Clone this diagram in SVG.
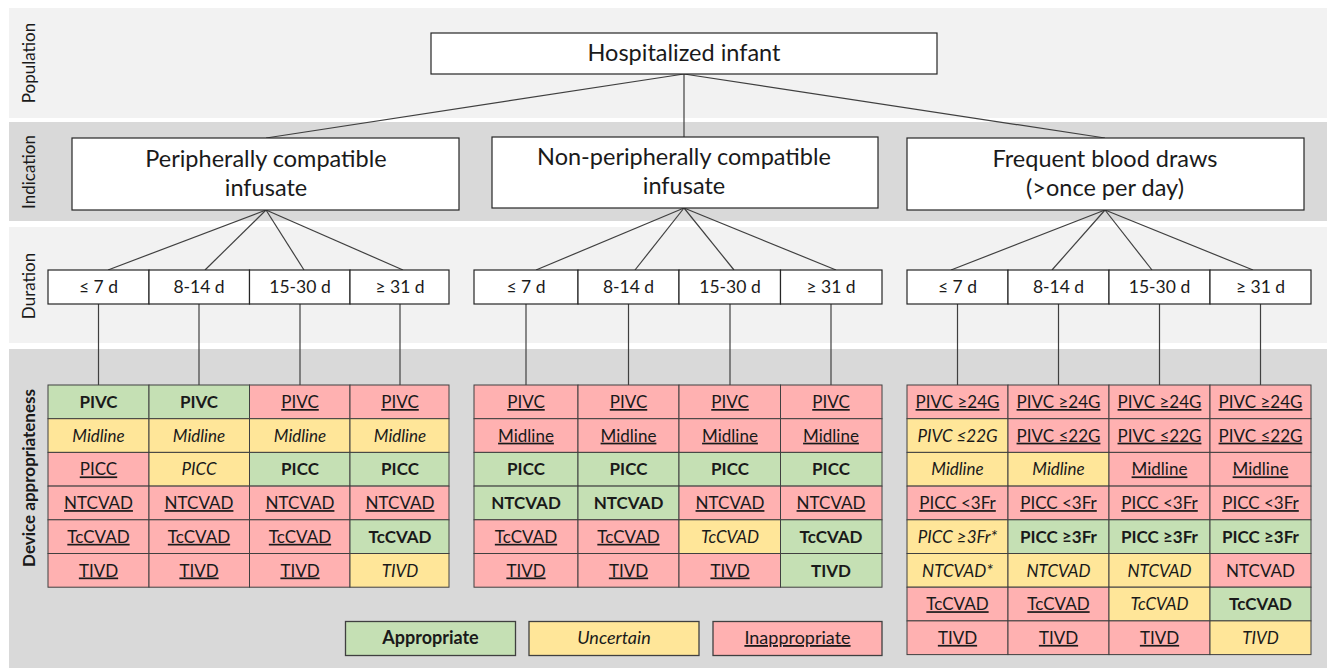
<svg xmlns="http://www.w3.org/2000/svg" width="1331" height="668" viewBox="0 0 1331 668">
  <style>
    text { font-family: Lato, "Liberation Sans", sans-serif; fill: #1a1a1a; text-anchor: middle; }
    .band-lt { fill: #f2f2f2; }
    .band-dk { fill: #d9d9d9; }
    .band-label { font-size: 17px; }
    .band-label-b { font-size: 17px; font-weight: bold; }
    .box { fill: #ffffff; stroke: #262626; stroke-width: 1.2; }
    .big { font-size: 23.5px; }
    .dur { font-size: 17.5px; }
    .ok { fill: #c5e0b4; stroke: #404040; stroke-width: 1; }
    .un { fill: #ffe699; stroke: #404040; stroke-width: 1; }
    .no { fill: #ffb1b1; stroke: #404040; stroke-width: 1; }
    .c { font-size: 17px; }
    .lgt { font-size: 18px; }
    .b { font-weight: bold; }
    .i { font-style: italic; }
    .u { text-decoration: underline; }
    .conn line { stroke: #404040; stroke-width: 1.2; }
  </style>

  <!-- horizontal bands -->
  <g id="bands">
    <rect class="band-lt" x="9" y="8" width="1318" height="110"/>
    <rect class="band-dk" x="9" y="122" width="1318" height="99"/>
    <rect class="band-lt" x="9" y="227" width="1318" height="116"/>
    <rect class="band-dk" x="9" y="349" width="1318" height="319"/>
    <text class="band-label" transform="translate(34.5 63) rotate(-90)">Population</text>
    <text class="band-label" transform="translate(34.5 172) rotate(-90)">Indication</text>
    <text class="band-label" transform="translate(34.5 286) rotate(-90)">Duration</text>
    <text class="band-label-b" transform="translate(34.5 478) rotate(-90)">Device appropriateness</text>
  </g>

  <!-- connectors -->
  <g id="connectors" class="conn">
    <line x1="684" y1="74" x2="266" y2="138"/>
    <line x1="684" y1="74" x2="684" y2="137"/>
    <line x1="684" y1="74" x2="1105" y2="138"/>

    <line x1="266" y1="210" x2="108" y2="270"/>
    <line x1="266" y1="210" x2="205" y2="270"/>
    <line x1="266" y1="210" x2="304" y2="270"/>
    <line x1="266" y1="210" x2="403" y2="270"/>

    <line x1="684" y1="208" x2="536" y2="270"/>
    <line x1="684" y1="208" x2="635" y2="270"/>
    <line x1="684" y1="208" x2="734" y2="270"/>
    <line x1="684" y1="208" x2="836" y2="270"/>

    <line x1="1105" y1="210" x2="951" y2="270"/>
    <line x1="1105" y1="210" x2="1052" y2="270"/>
    <line x1="1105" y1="210" x2="1152" y2="270"/>
    <line x1="1105" y1="210" x2="1253" y2="270"/>

    <line x1="98.5" y1="304" x2="98.5" y2="385"/>
    <line x1="199" y1="304" x2="199" y2="385"/>
    <line x1="300" y1="304" x2="300" y2="385"/>
    <line x1="400" y1="304" x2="400" y2="385"/>
    <line x1="526" y1="304" x2="526" y2="385"/>
    <line x1="628.5" y1="304" x2="628.5" y2="385"/>
    <line x1="730" y1="304" x2="730" y2="385"/>
    <line x1="831" y1="304" x2="831" y2="385"/>
    <line x1="957.5" y1="304" x2="957.5" y2="385"/>
    <line x1="1058.5" y1="304" x2="1058.5" y2="385"/>
    <line x1="1159.5" y1="304" x2="1159.5" y2="385"/>
    <line x1="1260.5" y1="304" x2="1260.5" y2="385"/>
  </g>

  <!-- population -->
  <g id="population">
    <rect class="box" x="431" y="33" width="506" height="41"/>
    <text class="big" x="684" y="61">Hospitalized infant</text>
  </g>

  <!-- indications -->
  <g id="ind-peripheral">
    <rect class="box" x="72" y="138" width="387" height="72"/>
    <text class="big" x="266" y="167">Peripherally compatible</text>
    <text class="big" x="266" y="196">infusate</text>
  </g>
  <g id="ind-nonperipheral">
    <rect class="box" x="492" y="137" width="386" height="71"/>
    <text class="big" x="684" y="165">Non-peripherally compatible</text>
    <text class="big" x="684" y="194">infusate</text>
  </g>
  <g id="ind-blood">
    <rect class="box" x="907" y="138" width="397" height="72"/>
    <text class="big" x="1105" y="167">Frequent blood draws</text>
    <text class="big" x="1105" y="196">(&gt;once per day)</text>
  </g>

  <!-- duration boxes -->
  <g id="dur-peripheral">
    <rect class="box" x="48" y="270" width="101" height="34"/>
    <rect class="box" x="149" y="270" width="100.5" height="34"/>
    <rect class="box" x="249.5" y="270" width="100.5" height="34"/>
    <rect class="box" x="350" y="270" width="99" height="34"/>
    <text class="dur" x="98.5" y="293">≤ 7 d</text>
    <text class="dur" x="199" y="293">8-14 d</text>
    <text class="dur" x="300" y="293">15-30 d</text>
    <text class="dur" x="400" y="293">≥ 31 d</text>
  </g>
  <g id="dur-nonperipheral">
    <rect class="box" x="474" y="270" width="104" height="34"/>
    <rect class="box" x="578" y="270" width="101" height="34"/>
    <rect class="box" x="679" y="270" width="101.5" height="34"/>
    <rect class="box" x="780.5" y="270" width="101.5" height="34"/>
    <text class="dur" x="526" y="293">≤ 7 d</text>
    <text class="dur" x="628.5" y="293">8-14 d</text>
    <text class="dur" x="730" y="293">15-30 d</text>
    <text class="dur" x="831" y="293">≥ 31 d</text>
  </g>
  <g id="dur-blood">
    <rect class="box" x="907" y="270" width="101" height="34"/>
    <rect class="box" x="1008" y="270" width="101" height="34"/>
    <rect class="box" x="1109" y="270" width="101" height="34"/>
    <rect class="box" x="1210" y="270" width="101" height="34"/>
    <text class="dur" x="957.5" y="293">≤ 7 d</text>
    <text class="dur" x="1058.5" y="293">8-14 d</text>
    <text class="dur" x="1159.5" y="293">15-30 d</text>
    <text class="dur" x="1260.5" y="293">≥ 31 d</text>
  </g>

  <!-- device appropriateness: peripherally compatible infusate -->
  <g id="dev-peripheral">
    <g id="p-r1">
      <rect class="ok" x="48" y="385" width="101" height="33.7"/><text class="c b" x="98.5" y="408">PIVC</text>
      <rect class="ok" x="149" y="385" width="100.5" height="33.7"/><text class="c b" x="199" y="408">PIVC</text>
      <rect class="no" x="249.5" y="385" width="100.5" height="33.7"/><text class="c u" x="300" y="408">PIVC</text>
      <rect class="no" x="350" y="385" width="99" height="33.7"/><text class="c u" x="400" y="408">PIVC</text>
    </g>
    <g id="p-r2">
      <rect class="un" x="48" y="418.7" width="101" height="33.7"/><text class="c i" x="98.5" y="441.7">Midline</text>
      <rect class="un" x="149" y="418.7" width="100.5" height="33.7"/><text class="c i" x="199" y="441.7">Midline</text>
      <rect class="un" x="249.5" y="418.7" width="100.5" height="33.7"/><text class="c i" x="300" y="441.7">Midline</text>
      <rect class="un" x="350" y="418.7" width="99" height="33.7"/><text class="c i" x="400" y="441.7">Midline</text>
    </g>
    <g id="p-r3">
      <rect class="no" x="48" y="452.4" width="101" height="33.7"/><text class="c u" x="98.5" y="475.4">PICC</text>
      <rect class="un" x="149" y="452.4" width="100.5" height="33.7"/><text class="c i" x="199" y="475.4">PICC</text>
      <rect class="ok" x="249.5" y="452.4" width="100.5" height="33.7"/><text class="c b" x="300" y="475.4">PICC</text>
      <rect class="ok" x="350" y="452.4" width="99" height="33.7"/><text class="c b" x="400" y="475.4">PICC</text>
    </g>
    <g id="p-r4">
      <rect class="no" x="48" y="486.1" width="101" height="33.7"/><text class="c u" x="98.5" y="509.1">NTCVAD</text>
      <rect class="no" x="149" y="486.1" width="100.5" height="33.7"/><text class="c u" x="199" y="509.1">NTCVAD</text>
      <rect class="no" x="249.5" y="486.1" width="100.5" height="33.7"/><text class="c u" x="300" y="509.1">NTCVAD</text>
      <rect class="no" x="350" y="486.1" width="99" height="33.7"/><text class="c u" x="400" y="509.1">NTCVAD</text>
    </g>
    <g id="p-r5">
      <rect class="no" x="48" y="519.8" width="101" height="33.7"/><text class="c u" x="98.5" y="542.8">TcCVAD</text>
      <rect class="no" x="149" y="519.8" width="100.5" height="33.7"/><text class="c u" x="199" y="542.8">TcCVAD</text>
      <rect class="no" x="249.5" y="519.8" width="100.5" height="33.7"/><text class="c u" x="300" y="542.8">TcCVAD</text>
      <rect class="ok" x="350" y="519.8" width="99" height="33.7"/><text class="c b" x="400" y="542.8">TcCVAD</text>
    </g>
    <g id="p-r6">
      <rect class="no" x="48" y="553.5" width="101" height="33.7"/><text class="c u" x="98.5" y="576.5">TIVD</text>
      <rect class="no" x="149" y="553.5" width="100.5" height="33.7"/><text class="c u" x="199" y="576.5">TIVD</text>
      <rect class="no" x="249.5" y="553.5" width="100.5" height="33.7"/><text class="c u" x="300" y="576.5">TIVD</text>
      <rect class="un" x="350" y="553.5" width="99" height="33.7"/><text class="c i" x="400" y="576.5">TIVD</text>
    </g>
  </g>

  <!-- device appropriateness: non-peripherally compatible infusate -->
  <g id="dev-nonperipheral">
    <g id="n-r1">
      <rect class="no" x="474" y="385" width="104" height="33.7"/><text class="c u" x="526" y="408">PIVC</text>
      <rect class="no" x="578" y="385" width="101" height="33.7"/><text class="c u" x="628.5" y="408">PIVC</text>
      <rect class="no" x="679" y="385" width="101.5" height="33.7"/><text class="c u" x="730" y="408">PIVC</text>
      <rect class="no" x="780.5" y="385" width="101.5" height="33.7"/><text class="c u" x="831" y="408">PIVC</text>
    </g>
    <g id="n-r2">
      <rect class="no" x="474" y="418.7" width="104" height="33.7"/><text class="c u" x="526" y="441.7">Midline</text>
      <rect class="no" x="578" y="418.7" width="101" height="33.7"/><text class="c u" x="628.5" y="441.7">Midline</text>
      <rect class="no" x="679" y="418.7" width="101.5" height="33.7"/><text class="c u" x="730" y="441.7">Midline</text>
      <rect class="no" x="780.5" y="418.7" width="101.5" height="33.7"/><text class="c u" x="831" y="441.7">Midline</text>
    </g>
    <g id="n-r3">
      <rect class="ok" x="474" y="452.4" width="104" height="33.7"/><text class="c b" x="526" y="475.4">PICC</text>
      <rect class="ok" x="578" y="452.4" width="101" height="33.7"/><text class="c b" x="628.5" y="475.4">PICC</text>
      <rect class="ok" x="679" y="452.4" width="101.5" height="33.7"/><text class="c b" x="730" y="475.4">PICC</text>
      <rect class="ok" x="780.5" y="452.4" width="101.5" height="33.7"/><text class="c b" x="831" y="475.4">PICC</text>
    </g>
    <g id="n-r4">
      <rect class="ok" x="474" y="486.1" width="104" height="33.7"/><text class="c b" x="526" y="509.1">NTCVAD</text>
      <rect class="ok" x="578" y="486.1" width="101" height="33.7"/><text class="c b" x="628.5" y="509.1">NTCVAD</text>
      <rect class="no" x="679" y="486.1" width="101.5" height="33.7"/><text class="c u" x="730" y="509.1">NTCVAD</text>
      <rect class="no" x="780.5" y="486.1" width="101.5" height="33.7"/><text class="c u" x="831" y="509.1">NTCVAD</text>
    </g>
    <g id="n-r5">
      <rect class="no" x="474" y="519.8" width="104" height="33.7"/><text class="c u" x="526" y="542.8">TcCVAD</text>
      <rect class="no" x="578" y="519.8" width="101" height="33.7"/><text class="c u" x="628.5" y="542.8">TcCVAD</text>
      <rect class="un" x="679" y="519.8" width="101.5" height="33.7"/><text class="c i" x="730" y="542.8">TcCVAD</text>
      <rect class="ok" x="780.5" y="519.8" width="101.5" height="33.7"/><text class="c b" x="831" y="542.8">TcCVAD</text>
    </g>
    <g id="n-r6">
      <rect class="no" x="474" y="553.5" width="104" height="33.7"/><text class="c u" x="526" y="576.5">TIVD</text>
      <rect class="no" x="578" y="553.5" width="101" height="33.7"/><text class="c u" x="628.5" y="576.5">TIVD</text>
      <rect class="no" x="679" y="553.5" width="101.5" height="33.7"/><text class="c u" x="730" y="576.5">TIVD</text>
      <rect class="ok" x="780.5" y="553.5" width="101.5" height="33.7"/><text class="c b" x="831" y="576.5">TIVD</text>
    </g>
  </g>

  <!-- device appropriateness: frequent blood draws -->
  <g id="dev-blood">
    <g id="f-r1">
      <rect class="no" x="907" y="385" width="101" height="33.7"/><text class="c u" x="957.5" y="408">PIVC ≥24G</text>
      <rect class="no" x="1008" y="385" width="101" height="33.7"/><text class="c u" x="1058.5" y="408">PIVC ≥24G</text>
      <rect class="no" x="1109" y="385" width="101" height="33.7"/><text class="c u" x="1159.5" y="408">PIVC ≥24G</text>
      <rect class="no" x="1210" y="385" width="101" height="33.7"/><text class="c u" x="1260.5" y="408">PIVC ≥24G</text>
    </g>
    <g id="f-r2">
      <rect class="un" x="907" y="418.7" width="101" height="33.7"/><text class="c i" x="957.5" y="441.7">PIVC ≤22G</text>
      <rect class="no" x="1008" y="418.7" width="101" height="33.7"/><text class="c u" x="1058.5" y="441.7">PIVC ≤22G</text>
      <rect class="no" x="1109" y="418.7" width="101" height="33.7"/><text class="c u" x="1159.5" y="441.7">PIVC ≤22G</text>
      <rect class="no" x="1210" y="418.7" width="101" height="33.7"/><text class="c u" x="1260.5" y="441.7">PIVC ≤22G</text>
    </g>
    <g id="f-r3">
      <rect class="un" x="907" y="452.4" width="101" height="33.7"/><text class="c i" x="957.5" y="475.4">Midline</text>
      <rect class="un" x="1008" y="452.4" width="101" height="33.7"/><text class="c i" x="1058.5" y="475.4">Midline</text>
      <rect class="no" x="1109" y="452.4" width="101" height="33.7"/><text class="c u" x="1159.5" y="475.4">Midline</text>
      <rect class="no" x="1210" y="452.4" width="101" height="33.7"/><text class="c u" x="1260.5" y="475.4">Midline</text>
    </g>
    <g id="f-r4">
      <rect class="no" x="907" y="486.1" width="101" height="33.7"/><text class="c u" x="957.5" y="509.1">PICC &lt;3Fr</text>
      <rect class="no" x="1008" y="486.1" width="101" height="33.7"/><text class="c u" x="1058.5" y="509.1">PICC &lt;3Fr</text>
      <rect class="no" x="1109" y="486.1" width="101" height="33.7"/><text class="c u" x="1159.5" y="509.1">PICC &lt;3Fr</text>
      <rect class="no" x="1210" y="486.1" width="101" height="33.7"/><text class="c u" x="1260.5" y="509.1">PICC &lt;3Fr</text>
    </g>
    <g id="f-r5">
      <rect class="un" x="907" y="519.8" width="101" height="33.7"/><text class="c i" x="957.5" y="542.8">PICC ≥3Fr*</text>
      <rect class="ok" x="1008" y="519.8" width="101" height="33.7"/><text class="c b" x="1058.5" y="542.8">PICC ≥3Fr</text>
      <rect class="ok" x="1109" y="519.8" width="101" height="33.7"/><text class="c b" x="1159.5" y="542.8">PICC ≥3Fr</text>
      <rect class="ok" x="1210" y="519.8" width="101" height="33.7"/><text class="c b" x="1260.5" y="542.8">PICC ≥3Fr</text>
    </g>
    <g id="f-r6">
      <rect class="un" x="907" y="553.5" width="101" height="33.7"/><text class="c i" x="957.5" y="576.5">NTCVAD*</text>
      <rect class="un" x="1008" y="553.5" width="101" height="33.7"/><text class="c i" x="1058.5" y="576.5">NTCVAD</text>
      <rect class="un" x="1109" y="553.5" width="101" height="33.7"/><text class="c i" x="1159.5" y="576.5">NTCVAD</text>
      <rect class="no" x="1210" y="553.5" width="101" height="33.7"/><text class="c" x="1260.5" y="576.5">NTCVAD</text>
    </g>
    <g id="f-r7">
      <rect class="no" x="907" y="587.2" width="101" height="33.7"/><text class="c u" x="957.5" y="610.2">TcCVAD</text>
      <rect class="no" x="1008" y="587.2" width="101" height="33.7"/><text class="c u" x="1058.5" y="610.2">TcCVAD</text>
      <rect class="un" x="1109" y="587.2" width="101" height="33.7"/><text class="c i" x="1159.5" y="610.2">TcCVAD</text>
      <rect class="ok" x="1210" y="587.2" width="101" height="33.7"/><text class="c b" x="1260.5" y="610.2">TcCVAD</text>
    </g>
    <g id="f-r8">
      <rect class="no" x="907" y="620.9" width="101" height="33.7"/><text class="c u" x="957.5" y="643.9">TIVD</text>
      <rect class="no" x="1008" y="620.9" width="101" height="33.7"/><text class="c u" x="1058.5" y="643.9">TIVD</text>
      <rect class="no" x="1109" y="620.9" width="101" height="33.7"/><text class="c u" x="1159.5" y="643.9">TIVD</text>
      <rect class="un" x="1210" y="620.9" width="101" height="33.7"/><text class="c i" x="1260.5" y="643.9">TIVD</text>
    </g>
  </g>

  <!-- legend -->
  <g id="legend">
    <g id="legend-appropriate">
      <rect class="ok" x="345.5" y="621.5" width="170" height="34" style="stroke-width:1.3"/>
      <text class="lgt b" x="430.5" y="644">Appropriate</text>
    </g>
    <g id="legend-uncertain">
      <rect class="un" x="529" y="621.5" width="170" height="34" style="stroke-width:1.3"/>
      <text class="lgt i" x="614" y="644">Uncertain</text>
    </g>
    <g id="legend-inappropriate">
      <rect class="no" x="713" y="621.5" width="169" height="34" style="stroke-width:1.3"/>
      <text class="lgt u" x="797.5" y="644">Inappropriate</text>
    </g>
  </g>
</svg>
